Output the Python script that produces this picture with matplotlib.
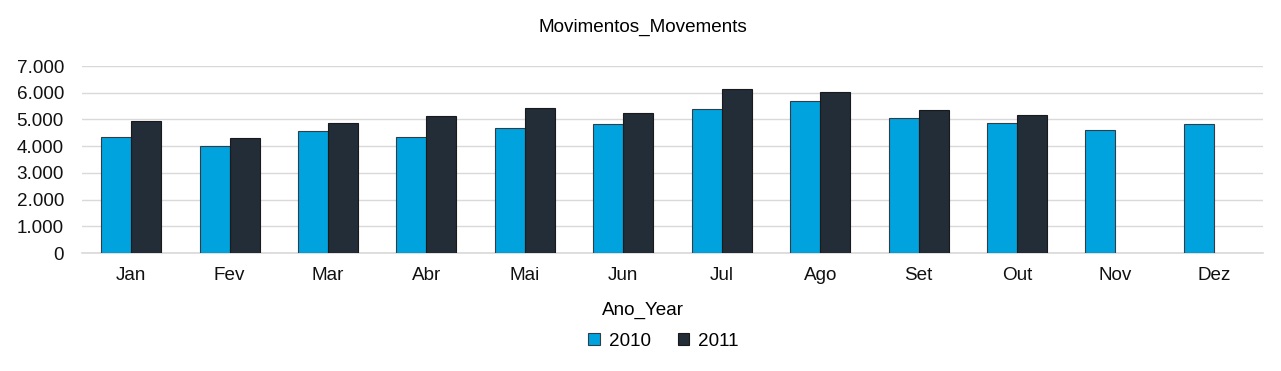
from matplotlib import pyplot as plt
from matplotlib.ticker import FuncFormatter
import numpy as np

# month labels and monthly movements per year
months = ["Jan", "Fev", "Mar", "Abr", "Mai", "Jun", "Jul", "Ago", "Set", "Out", "Nov", "Dez"]
mov_2010 = [4340, 4000, 4570, 4330, 4690, 4820, 5400, 5680, 5060, 4880, 4620, 4840]
mov_2011 = [4930, 4300, 4870, 5130, 5420, 5260, 6140, 6020, 5360, 5180, np.nan, np.nan]
yticks = [0, 1000, 2000, 3000, 4000, 5000, 6000, 7000]

plt.rcParams['font.family'] = ['Liberation Sans', 'DejaVu Sans']
fs = 13.6

fig = plt.figure(figsize=(12.81, 3.71), dpi=100)
ax = fig.add_axes([0.064, 0.318, 0.922, 0.504])

x = np.arange(len(months))
w = 0.305
ax.bar(x - w/2, mov_2010, w, color='#00A3DD', edgecolor='#333d47', linewidth=0.8, label='2010', zorder=3)
ax.bar(x + w/2, mov_2011, w, color='#222D38', edgecolor='#1a1a1a', linewidth=0.8, label='2011', zorder=3)

ax.set_xlim(-0.5, len(months) - 0.5)
ax.set_ylim(0, 7000)
ax.set_yticks(yticks)
ax.yaxis.set_major_formatter(FuncFormatter(lambda v, p: f"{int(v):,}".replace(",", ".")))
ax.set_xticks(x)
ax.set_xticklabels(months)
ax.tick_params(axis='both', length=0, labelsize=fs, colors='#111111')
ax.tick_params(axis='x', pad=10)
ax.tick_params(axis='y', pad=13)
ax.grid(axis='y', color='#d9d9d9', linewidth=1, zorder=0)
ax.axhline(0, color='#d9d9d9', linewidth=1.2, zorder=1, clip_on=False)
for s in ax.spines.values():
    s.set_visible(False)

fig.text(0.502, 0.927, "Movimentos_Movements", ha='center', va='center', fontsize=fs)
fig.text(0.502, 0.162, "Ano_Year", ha='center', va='center', fontsize=fs)
fig.legend(loc='center', bbox_to_anchor=(0.518, 0.08), ncol=2, frameon=False, fontsize=fs,
           handlelength=0.6, handleheight=0.6, handletextpad=0.5, columnspacing=1.4)

fig.savefig("out.png", dpi=100)
